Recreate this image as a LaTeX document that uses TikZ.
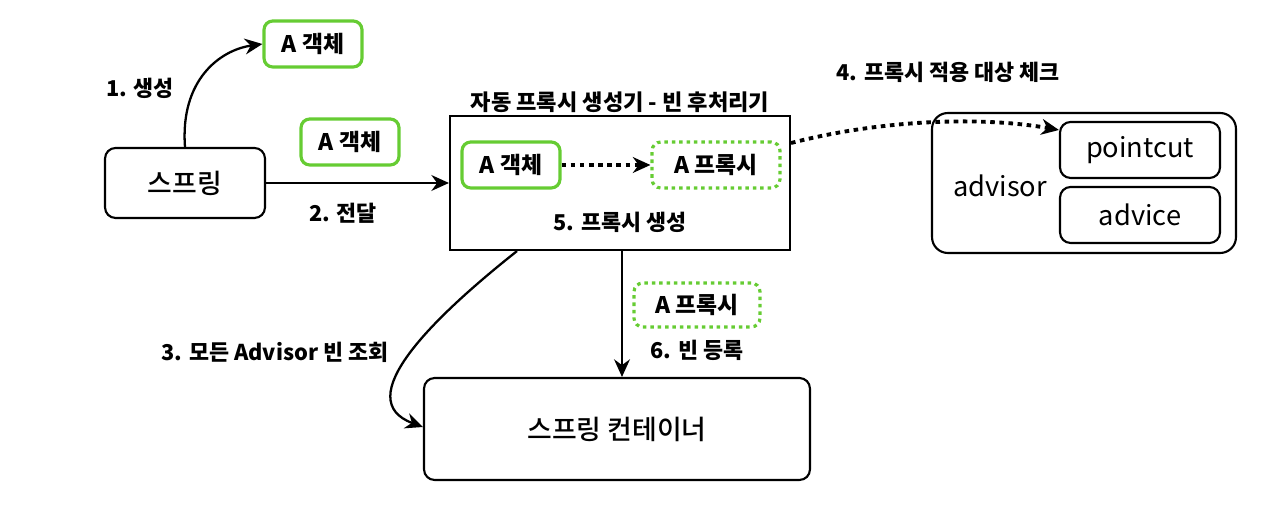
\documentclass[tikz,border=0pt]{standalone}
\usepackage{fontspec}
\setmainfont{Noto Sans CJK KR}
\newfontfamily\medfont{Noto Sans CJK KR Medium}
\usetikzlibrary{arrows.meta}
\definecolor{grn}{RGB}{102,204,51}

\begin{document}
\begin{tikzpicture}[x=0.02cm, y=-0.02cm,
		box/.style = {draw, line width=1.2pt, rounded corners=6pt, font=\medfont\fontsize{15.3}{17}\selectfont},
		obj/.style = {draw=grn, line width=1.8pt, rounded corners=5pt, minimum width=1.96cm, minimum height=0.92cm, font=\bfseries\fontsize{13}{15}\selectfont},
		proxy/.style = {obj, dash pattern=on 2pt off 2.2pt, minimum width=2.56cm},
		lbl/.style = {font=\bfseries\fontsize{12.4}{14}\selectfont},
		arr/.style = {-{Stealth[length=10pt,width=9pt]}, line width=1.3pt},
		dots/.style = {arr, dash pattern=on 2.6pt off 2.6pt, line width=2.2pt}]
	\useasboundingbox (0,0) rectangle (1284,519);

	\node[box, minimum width=3.2cm, minimum height=1.4cm] (spring) at (185,183) {스프링};
	\node[obj] (created) at (313,44) {A 객체};
	\node[obj] (passed) at (350,142) {A 객체};

	\node[draw, line width=1.2pt, minimum width=6.8cm, minimum height=2.68cm] (gen) at (620,183) {};
	\node[font=\bfseries\fontsize{12.6}{14}\selectfont] (gentitle) at (620,102) {자동 프록시 생성기 - 빈 후처리기};
	\node[obj] (target) at (511,165) {A 객체};
	\node[proxy] (proxy) at (716,165) {A 프록시};
	\node[lbl] (make) at (620,222) {5. 프록시 생성};

	\node[box, minimum width=6.08cm, minimum height=2.8cm, rounded corners=9pt] (advisor) at (1084,183) {};
	\node[font=\fontsize{15.5}{17}\selectfont] (advname) at (1000,186) {advisor};
	\node[box, minimum width=3.2cm, minimum height=1.12cm, font=\fontsize{15.5}{17}\selectfont] (pointcut) at (1140,150) {pointcut};
	\node[box, minimum width=3.2cm, minimum height=1.12cm, font=\fontsize{15.5}{17}\selectfont] (advice) at (1140,215) {advice};

	\node[box, minimum width=7.72cm, minimum height=2.04cm] (container) at (617,429) {스프링 컨테이너};
	\node[proxy, minimum width=2.52cm, minimum height=0.88cm] (registered) at (697,305) {A 프록시};

	\node[lbl] (l1) at (140,88) {1. 생성};
	\node[lbl] (l2) at (343,213) {2. 전달};
	\node[lbl] (l3) at (275,352) {3. 모든 Advisor 빈 조회};
	\node[lbl] (l4) at (948,72) {4. 프록시 적용 대상 체크};
	\node[lbl] (l6) at (697,350) {6. 빈 등록};

	\draw[arr] (spring.north) .. controls (180,80) and (220,50) .. (created.west);
	\draw[arr] (spring.east) -- (gen.west);
	\draw[dots] (target.east) -- (proxy.west);
	\draw[dots] ([yshift=0.8cm]gen.east) .. controls (880,120) and (980,116) .. ([yshift=0.4cm]pointcut.west);
	\draw[arr] ([xshift=-2.06cm]gen.south) .. controls (430,320) and (350,400) .. ([yshift=0.04cm]container.west);
	\draw[arr] ([xshift=0.04cm]gen.south) -- ([xshift=0.04cm]gen.south |- container.north);
\end{tikzpicture}
\end{document}
